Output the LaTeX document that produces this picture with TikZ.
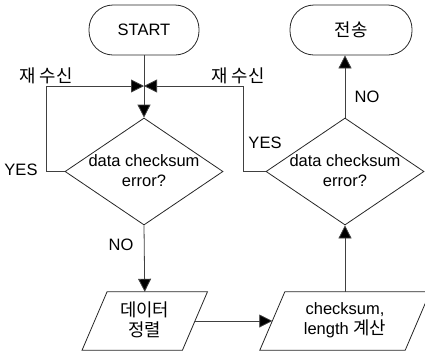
\documentclass[tikz,border=0pt]{standalone}
\usepackage{fontspec}
\setmainfont{Liberation Sans}
\newfontfamily\kr[Scale=1.08]{Noto Sans CJK KR}
\usetikzlibrary{shapes.geometric,arrows.meta}
\begin{document}
\begin{tikzpicture}[x=1pt,y=-1pt,
  every node/.style={font=\fontsize{16.5}{20}\selectfont},
  line/.style={draw=black!75,line width=0.8pt},
  arr/.style={line,-{Triangle[length=13pt,width=13pt,fill=black]}},
  term/.style={draw=black!85,line width=0.8pt,rounded corners=24pt,minimum width=110pt,minimum height=50pt,inner sep=0pt},
  dia/.style={diamond,draw=black!85,line width=0.8pt,minimum width=158pt,minimum height=107pt,inner sep=0pt},
  pbox/.style={inner sep=0pt,align=center},
  lab/.style={inner sep=0pt}]
\useasboundingbox (0,0) rectangle (425,354);
% terminals
\node[term] (start) at (144,30) {START};
\node[term,minimum width=122pt] (send) at (351,30) {\kr 전송};
% diamonds
\node[dia] (d1) at (144,171.5) {};
\node[pbox] (t1) at (144,171) {data checksum\\error?};
\node[dia] (d2) at (345,171.5) {};
\node[pbox] (t2) at (345,171) {data checksum\\error?};
% parallelograms
\node[minimum width=100pt,minimum height=58pt,inner sep=0pt] (p1) at (144.75,321) {};
\draw[line,draw=black!85] ([xshift=12.5pt]p1.north west) -- ([xshift=12.5pt]p1.north east) -- ([xshift=-12.5pt]p1.south east) -- ([xshift=-12.5pt]p1.south west) -- cycle;
\node[pbox] (pt1) at (144.75,320) {\kr 데이터\\\kr 정렬};
\node[minimum width=145pt,minimum height=58pt,inner sep=0pt] (p2) at (345,321) {};
\draw[line,draw=black!85] ([xshift=12.5pt]p2.north west) -- ([xshift=12.5pt]p2.north east) -- ([xshift=-12.5pt]p2.south east) -- ([xshift=-12.5pt]p2.south west) -- cycle;
\node[pbox] (pt2) at (345,320) {checksum,\\length {\kr 계산}};
% junction
\coordinate (j) at (144,86);
\coordinate (lc) at (46,86);
\coordinate (rc) at (243,86);
\draw[line] (start.south) -- (j);
\draw[arr] (j) -- (d1.north);
\draw[arr] (d1.west) -- (d1.west -| lc) -- (lc) -- (j);
\draw[arr] (d2.west) -- (d2.west -| rc) -- (rc) -- (j);
\draw[arr] (d1.south) -- (p1.north);
\draw[arr] (p1.east) -- (p2.west);
\draw[arr] (p2.north) -- (d2.south);
\draw[arr] (d2.north) -- (d2.north |- send.south);
% labels
\node[lab] (l1) at (46,76) {\kr 재 수신};
\node[lab] (l2) at (238,76) {\kr 재 수신};
\node[lab] (y1) at (21,170) {YES};
\node[lab] (y2) at (265,143) {YES};
\node[lab] (n1) at (121,245) {NO};
\node[lab] (n2) at (367,97) {NO};
\end{tikzpicture}
\end{document}
